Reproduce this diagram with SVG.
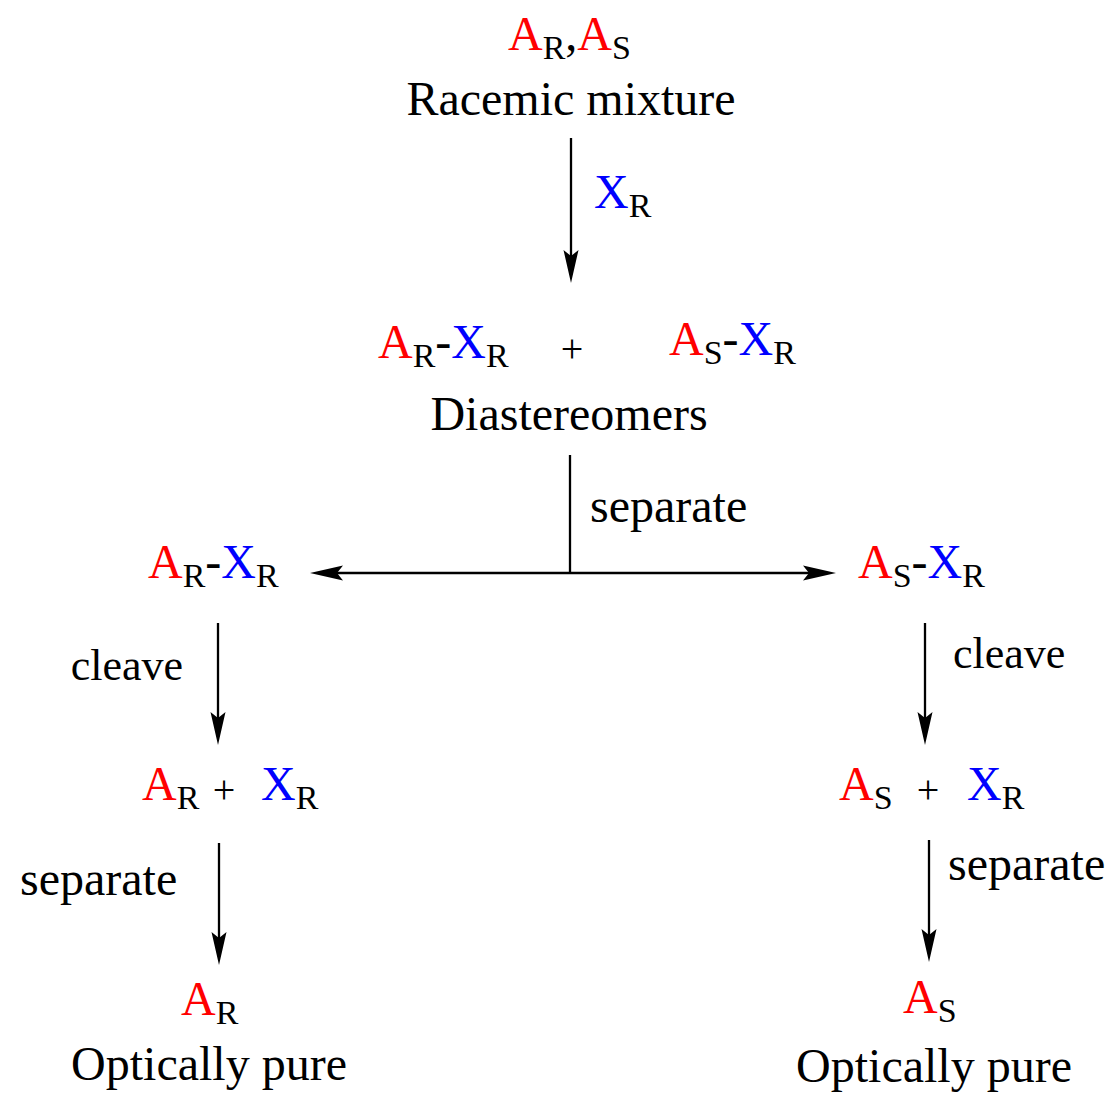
<svg xmlns="http://www.w3.org/2000/svg" width="1110" height="1095" viewBox="0 0 1110 1095">
<style>
text{font-family:"Liberation Serif","Times New Roman",serif;font-size:48px;fill:#000}
.r{fill:#ff0000}.b{fill:#0000ff}
.sub{font-size:34px}
.plus{font-size:40px}
.cl{font-size:44px}
.ln{stroke:#000;stroke-width:2.3;fill:none}
</style>
<defs>
<marker id="ah" markerUnits="userSpaceOnUse" markerWidth="46" markerHeight="18" viewBox="-46 -9 46 18" refX="-10" refY="0" orient="auto-start-reverse">
<path d="M0,0 L-33,-7.5 L-27,0 L-33,7.5 Z" fill="#000"/>
</marker>
</defs>
<g id="connectors">
<line class="ln" x1="571" y1="138" x2="571" y2="273" marker-end="url(#ah)"/>
<line class="ln" x1="570" y1="455" x2="570" y2="573"/>
<line class="ln" x1="320" y1="573" x2="826" y2="573" marker-start="url(#ah)" marker-end="url(#ah)"/>
<line class="ln" x1="218" y1="623" x2="218" y2="735" marker-end="url(#ah)"/>
<line class="ln" x1="925" y1="623" x2="925" y2="735" marker-end="url(#ah)"/>
<line class="ln" x1="219" y1="843" x2="219" y2="955" marker-end="url(#ah)"/>
<line class="ln" x1="929" y1="840" x2="929" y2="952" marker-end="url(#ah)"/>
<text x="594" y="208"><tspan class="b">X</tspan><tspan class="sub" dy="9">R</tspan></text>
<text x="590" y="522">separate</text>
<text class="cl" x="183" y="680" text-anchor="end">cleave</text>
<text class="cl" x="953" y="668">cleave</text>
<text x="20" y="895">separate</text>
<text x="948" y="880">separate</text>
</g>
<g id="racemic">
<text x="508" y="50"><tspan class="r">A</tspan><tspan class="sub" dy="9">R</tspan><tspan dy="-9">,</tspan><tspan class="r">A</tspan><tspan class="sub" dy="9">S</tspan></text>
<text x="571" y="115" text-anchor="middle">Racemic mixture</text>
</g>
<g id="diastereomers">
<text x="378" y="358"><tspan class="r">A</tspan><tspan class="sub" dy="9">R</tspan><tspan dy="-9">-</tspan><tspan class="b">X</tspan><tspan class="sub" dy="9">R</tspan></text>
<text class="plus" x="572" y="362" text-anchor="middle">+</text>
<text x="669" y="355"><tspan class="r">A</tspan><tspan class="sub" dy="9">S</tspan><tspan dy="-9">-</tspan><tspan class="b">X</tspan><tspan class="sub" dy="9">R</tspan></text>
<text x="569" y="430" text-anchor="middle">Diastereomers</text>
</g>
<g id="ar-xr">
<text x="148" y="578"><tspan class="r">A</tspan><tspan class="sub" dy="9">R</tspan><tspan dy="-9">-</tspan><tspan class="b">X</tspan><tspan class="sub" dy="9">R</tspan></text>
</g>
<g id="as-xr">
<text x="858" y="578"><tspan class="r">A</tspan><tspan class="sub" dy="9">S</tspan><tspan dy="-9">-</tspan><tspan class="b">X</tspan><tspan class="sub" dy="9">R</tspan></text>
</g>
<g id="ar-plus-xr">
<text x="142" y="800"><tspan class="r">A</tspan><tspan class="sub" dy="9">R</tspan></text>
<text class="plus" x="224" y="803" text-anchor="middle">+</text>
<text x="261" y="800"><tspan class="b">X</tspan><tspan class="sub" dy="9">R</tspan></text>
</g>
<g id="as-plus-xr">
<text x="839" y="800"><tspan class="r">A</tspan><tspan class="sub" dy="9">S</tspan></text>
<text class="plus" x="928" y="803" text-anchor="middle">+</text>
<text x="967" y="800"><tspan class="b">X</tspan><tspan class="sub" dy="9">R</tspan></text>
</g>
<g id="ar-pure">
<text x="181" y="1015"><tspan class="r">A</tspan><tspan class="sub" dy="9">R</tspan></text>
<text x="209" y="1080" text-anchor="middle">Optically pure</text>
</g>
<g id="as-pure">
<text x="903" y="1013"><tspan class="r">A</tspan><tspan class="sub" dy="9">S</tspan></text>
<text x="934" y="1082" text-anchor="middle">Optically pure</text>
</g>
</svg>
